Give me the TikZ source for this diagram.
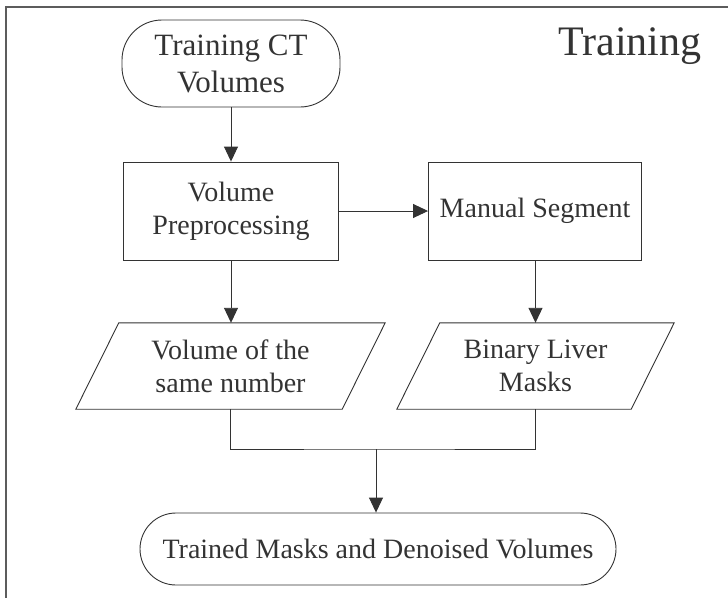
\documentclass[tikz,border=0pt]{standalone}
\usepackage{fontspec}
\setmainfont{Liberation Serif}
\usetikzlibrary{arrows.meta}
\definecolor{ink}{HTML}{333333}
\tikzset{
  every node/.style={font=\fontsize{28}{33}\selectfont, text=ink, align=center, inner sep=0pt},
  term/.style={draw=ink, line width=0.9pt, rounded corners=40pt},
  procbox/.style={draw=ink, line width=0.9pt, rectangle},
  databox/.style={rectangle},
  conn/.style={draw=ink, line width=0.9pt},
  arr/.style={conn, -{Triangle[length=15pt,width=14pt]}},
  frameline/.style={draw=ink!80, line width=1.6pt}
}
\begin{document}
\begin{tikzpicture}[x=1pt,y=-1pt]
\useasboundingbox (0,0) rectangle (728,598);
\coordinate (ftr) at (728,7);
\coordinate (ftl) at (6,7);
\coordinate (fbl) at (6,598);
\draw[frameline] (ftr) -- (ftl) -- (fbl);

\node[font=\fontsize{42}{48}\selectfont] (title) at (630,46) {Training};

\node[term, font=\fontsize{31}{37}\selectfont, minimum width=218pt, minimum height=87pt] (start) at (231,63.5) {Training CT\\Volumes};
\node[procbox, minimum width=215pt, minimum height=98pt] (prep) at (231,211) {Volume\\Preprocessing};
\node[procbox, minimum width=213pt, minimum height=98pt] (seg) at (535,211) {Manual Segment};

\node[databox, minimum width=266pt, minimum height=86pt] (vol) at (230.5,366) {Volume of the\\same number};
\node[databox, minimum width=234pt, minimum height=86pt] (mask) at (535.5,366) {Binary Liver\\Masks};
\draw[conn] ([xshift=21.5pt]vol.north west) -- ([xshift=21.5pt]vol.north east)
  -- ([xshift=-21.5pt]vol.south east) -- ([xshift=-21.5pt]vol.south west) -- cycle;
\draw[conn] ([xshift=21.5pt]mask.north west) -- ([xshift=21.5pt]mask.north east)
  -- ([xshift=-21.5pt]mask.south east) -- ([xshift=-21.5pt]mask.south west) -- cycle;

\node[term, rounded corners=36pt, minimum width=476pt, minimum height=72pt] (end) at (378,549) {Trained Masks and Denoised Volumes};

\draw[arr] (start.south) -- (prep.north);
\draw[arr] (prep.east) -- (seg.west);
\draw[arr] (prep.south) -- (vol.north -| prep.south);
\draw[arr] (seg.south -| mask.north) -- (mask.north);
\coordinate (join) at (376,449);
\draw[conn] (vol.south) |- (join) -| (mask.south);
\draw[arr] (join) -- (end.north -| join);
\end{tikzpicture}
\end{document}
